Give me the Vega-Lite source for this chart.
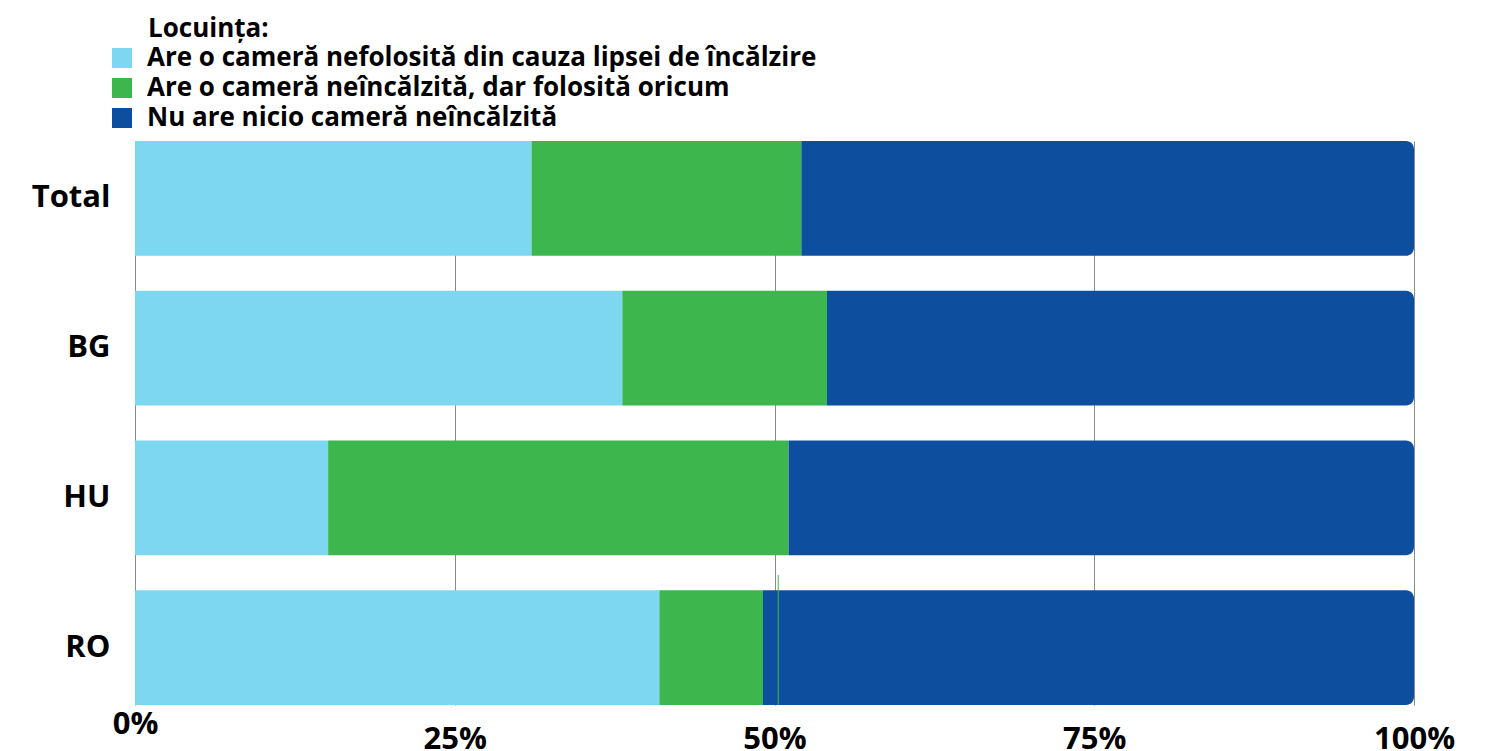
{
  "$schema": "https://vega.github.io/schema/vega-lite/v6.json",
  "autosize": "none",
  "width": 1279,
  "height": 564,
  "padding": {"left": 135, "top": 141, "right": 72, "bottom": 46},
  "background": "white",
  "config": {
    "font": "Open Sans",
    "view": {"stroke": null},
    "axis": {"labelFont": "Open Sans", "labelFontWeight": "bold", "labelColor": "#000"},
    "legend": {"labelFont": "Open Sans", "titleFont": "Open Sans"}
  },
  "datasets": {
    "bars": [
      {"cat": "Total", "series": "Are o cameră nefolosită din cauza lipsei de încălzire", "value": 31.0},
      {"cat": "Total", "series": "Are o cameră neîncălzită, dar folosită oricum", "value": 21.1},
      {"cat": "Total", "series": "Nu are nicio cameră neîncălzită", "value": 47.9},
      {"cat": "BG", "series": "Are o cameră nefolosită din cauza lipsei de încălzire", "value": 38.1},
      {"cat": "BG", "series": "Are o cameră neîncălzită, dar folosită oricum", "value": 16.0},
      {"cat": "BG", "series": "Nu are nicio cameră neîncălzită", "value": 45.9},
      {"cat": "HU", "series": "Are o cameră nefolosită din cauza lipsei de încălzire", "value": 15.1},
      {"cat": "HU", "series": "Are o cameră neîncălzită, dar folosită oricum", "value": 36.0},
      {"cat": "HU", "series": "Nu are nicio cameră neîncălzită", "value": 48.9},
      {"cat": "RO", "series": "Are o cameră nefolosită din cauza lipsei de încălzire", "value": 41.0},
      {"cat": "RO", "series": "Are o cameră neîncălzită, dar folosită oricum", "value": 8.1},
      {"cat": "RO", "series": "Nu are nicio cameră neîncălzită", "value": 50.9}
    ],
    "marker": [
      {"cat": "RO", "pos": 0.503}
    ]
  },
  "layer": [
    {
      "data": {"name": "bars"},
      "transform": [
        {"stack": "value", "groupby": ["cat"], "sort": [{"field": "series", "order": "ascending"}], "offset": "normalize", "as": ["x0", "x1"]}
      ],
      "layer": [
        {
          "transform": [{"filter": "datum.series != 'Nu are nicio cameră neîncălzită'"}],
          "mark": {"type": "bar"},
          "encoding": {
            "y": {"field": "cat", "type": "nominal", "sort": ["Total", "BG", "HU", "RO"],
              "scale": {"paddingInner": 0.233, "paddingOuter": 0},
              "axis": {"title": null, "ticks": false, "domain": false, "labelFontSize": 31, "labelPadding": 25}},
            "x": {"field": "x0", "type": "quantitative", "scale": {"domain": [0, 1], "nice": false},
              "axis": {"title": null, "format": ".0%", "values": [0, 0.25, 0.5, 0.75, 1], "ticks": false, "domain": false,
                "grid": true, "gridColor": "#8a8a8a", "gridWidth": 1, "labelFlush": false, "labelOverlap": false,
                "labelFontSize": 31, "labelBaseline": "alphabetic",
                "labelPadding": {"condition": {"test": "datum.value == 0", "value": 28}, "value": 43}}},
            "x2": {"field": "x1"},
            "color": {"field": "series", "type": "nominal",
              "scale": {"domain": ["Are o cameră nefolosită din cauza lipsei de încălzire", "Are o cameră neîncălzită, dar folosită oricum", "Nu are nicio cameră neîncălzită"],
                "range": ["#7dd7f0", "#3cb64d", "#0e4e9f"]},
              "legend": {"orient": "none", "legendX": -26, "legendY": -125, "title": "Locuința:",
                "titleFontSize": 26, "titleFontWeight": "bold", "titleColor": "#000", "titlePadding": 3,
                "symbolType": "square", "symbolSize": 400, "symbolStrokeWidth": 0, "symbolOpacity": 1,
                "labelFontSize": 26, "labelFontWeight": "bold", "labelColor": "#000", "labelOffset": 12,
                "labelLimit": 1000, "rowPadding": 4,
                "encode": {"title": {"update": {"dx": {"value": 39}}}}}}
          }
        },
        {
          "transform": [{"filter": "datum.series == 'Nu are nicio cameră neîncălzită'"}],
          "mark": {"type": "bar", "cornerRadiusTopRight": 8, "cornerRadiusBottomRight": 8},
          "encoding": {
            "y": {"field": "cat", "type": "nominal", "sort": ["Total", "BG", "HU", "RO"]},
            "x": {"field": "x0", "type": "quantitative"},
            "x2": {"field": "x1"},
            "color": {"field": "series", "type": "nominal"}
          }
        }
      ]
    },
    {
      "data": {"name": "marker"},
      "mark": {"type": "tick", "orient": "vertical", "color": "#3cb64d", "thickness": 1.5, "size": 130, "yOffset": -7.5},
      "encoding": {
        "y": {"field": "cat", "type": "nominal", "sort": ["Total", "BG", "HU", "RO"]},
        "x": {"field": "pos", "type": "quantitative"}
      }
    }
  ]
}
